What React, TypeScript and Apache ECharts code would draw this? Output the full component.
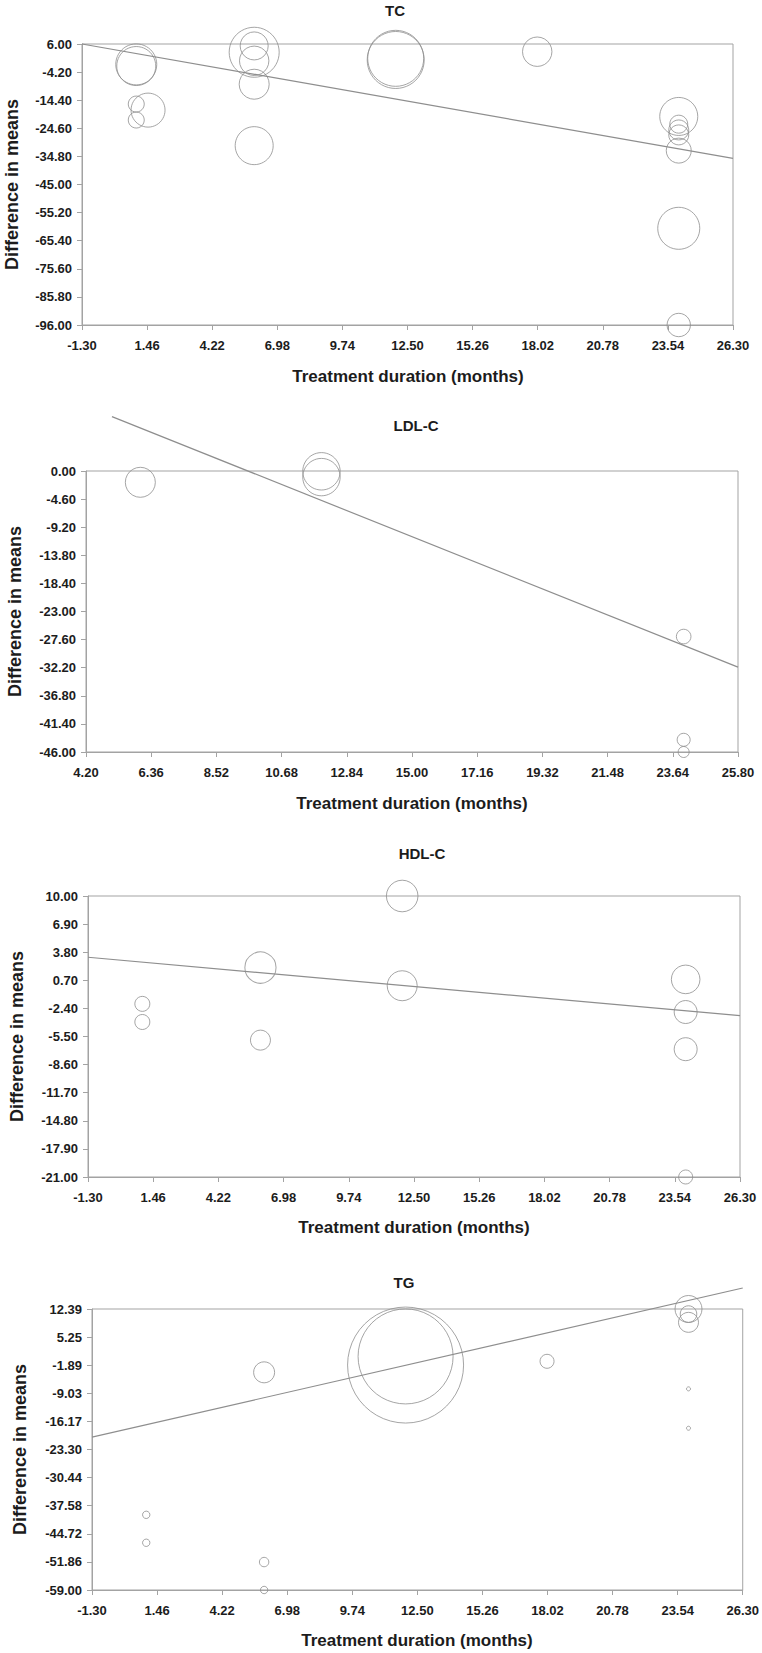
import React, { useEffect, useRef } from "react";
import * as echarts from "echarts";

// ---- tick labels ----
const xTicksFull = [-1.3, 1.46, 4.22, 6.98, 9.74, 12.5, 15.26, 18.02, 20.78, 23.54, 26.3];
const xTicksLDL = [4.2, 6.36, 8.52, 10.68, 12.84, 15.0, 17.16, 19.32, 21.48, 23.64, 25.8];
const yTicksTC = [6, -4.2, -14.4, -24.6, -34.8, -45, -55.2, -65.4, -75.6, -85.8, -96];
const yTicksLDL = [0, -4.6, -9.2, -13.8, -18.4, -23, -27.6, -32.2, -36.8, -41.4, -46];
const yTicksHDL = [10, 6.9, 3.8, 0.7, -2.4, -5.5, -8.6, -11.7, -14.8, -17.9, -21];
const yTicksTG = [12.39, 5.25, -1.89, -9.03, -16.17, -23.3, -30.44, -37.58, -44.72, -51.86, -59];

// ---- studies: [treatment duration (months), difference in means, bubble radius] ----
const tcStudies = [
  [1, -1.4, 20.5], [1, -2.0, 19.5], [1, -15.8, 8], [1, -21.6, 8], [1.5, -18, 17],
  [6, 3.0, 25], [6, 5.3, 14], [6, -0.1, 14.7], [6, -8.6, 15], [6, -30.9, 19],
  [12, 0.8, 28], [12, 0.2, 28.5],
  [18, 3.2, 14.7],
  [24, -20.3, 19], [24, -23.1, 9], [24, -25.2, 10], [24, -27, 10], [24, -32.7, 12.5], [24, -60.9, 21], [24, -96, 11.7],
];
const tcRegression = [[-1.3, 6], [26.3, -35.5]];

const ldlStudies = [
  [6, -1.85, 15], [12, -0.05, 18.7], [12, -1.0, 18.7],
  [24, -27.1, 7.3], [24, -44.0, 6.5], [24, -46.0, 5.5],
];
const ldlRegression = [[5.06, 8.9], [25.8, -32.1]];

const hdlStudies = [
  [1, -1.9, 7.5], [1, -3.9, 7.5],
  [6, 2.1, 15.6], [6, -5.9, 10],
  [12, 10, 15.8], [12, 0.1, 15],
  [24, 0.8, 14.3], [24, -2.8, 11.5], [24, -6.9, 11.5], [24, -21, 7],
];
const hdlRegression = [[-1.3, 3.24], [26.3, -3.2]];

const tgStudies = [
  [1, -39.9, 3.7], [1, -47.0, 3.7],
  [6, -3.7, 10.5], [6, -51.9, 4.7], [6, -59, 3.7],
  [12, -1.85, 58], [12, 0.34, 47.5],
  [18, -0.9, 7],
  [24, 12.39, 13.5], [24, 11.1, 8.3], [24, 9.0, 10], [24, -7.9, 2], [24, -17.9, 2],
];
const tgRegression = [[-1.3, -20.16], [26.3, 17.73]];

const FONT = "'Liberation Sans', Arial, Helvetica, sans-serif";
const TEXT = "#1c1c1c";
const AXIS = "#a3a3a3";
const MARK = "#8e8e8e";

const panels = [
  { title: "TC", titleX: 395, titleY: 10, grid: { left: 82, right: 29, top: 44, height: 281 }, xTicks: xTicksFull, yTicks: yTicksTC, studies: tcStudies, reg: tcRegression, xNameX: 408, xNameY: 376, yNameX: 12 },
  { title: "LDL-C", titleX: 416, titleY: 425, grid: { left: 86, right: 24, top: 471, height: 281 }, xTicks: xTicksLDL, yTicks: yTicksLDL, studies: ldlStudies, reg: ldlRegression, xNameX: 412, xNameY: 803, yNameX: 15 },
  { title: "HDL-C", titleX: 422, titleY: 853, grid: { left: 88, right: 22, top: 896, height: 281 }, xTicks: xTicksFull, yTicks: yTicksHDL, studies: hdlStudies, reg: hdlRegression, xNameX: 414, xNameY: 1227, yNameX: 17 },
  { title: "TG", titleX: 404, titleY: 1282, grid: { left: 92, right: 19, top: 1309, height: 281 }, xTicks: xTicksFull, yTicks: yTicksTG, studies: tgStudies, reg: tgRegression, xNameX: 417, xNameY: 1640, yNameX: 20 },
];

export default function App() {
  const ref = useRef<HTMLDivElement>(null);
  useEffect(() => {
    if (!ref.current) return;
    const chart = echarts.init(ref.current, undefined, { renderer: "svg" });
    const grids: any[] = [];
    const xAxes: any[] = [];
    const yAxes: any[] = [];
    const series: any[] = [];
    const graphics: any[] = [];
    panels.forEach((p, i) => {
      grids.push({ ...p.grid, show: true, borderColor: AXIS, borderWidth: 1, backgroundColor: "transparent" });
      const labelStyle = { fontFamily: FONT, fontWeight: "bold", fontSize: 13, color: TEXT };
      xAxes.push({
        type: "value", gridIndex: i, min: p.xTicks[0], max: p.xTicks[p.xTicks.length - 1],
        axisLine: { show: true, onZero: false, lineStyle: { color: AXIS, width: 1 } },
        axisTick: { show: true, length: 5, lineStyle: { color: AXIS }, customValues: p.xTicks },
        axisLabel: { ...labelStyle, margin: 14, customValues: p.xTicks, formatter: (v: number) => v.toFixed(2) },
        splitLine: { show: false },
      });
      yAxes.push({
        type: "value", gridIndex: i, min: p.yTicks[p.yTicks.length - 1], max: p.yTicks[0],
        axisLine: { show: true, onZero: false, lineStyle: { color: AXIS, width: 1 } },
        axisTick: { show: true, length: 5, lineStyle: { color: AXIS }, customValues: p.yTicks },
        axisLabel: { ...labelStyle, margin: 10, customValues: p.yTicks, formatter: (v: number) => v.toFixed(2) },
        splitLine: { show: false },
      });
      series.push({
        type: "line", xAxisIndex: i, yAxisIndex: i, data: p.reg, symbol: "none", clip: false, silent: true,
        lineStyle: { color: MARK, width: 1.2 },
      });
      series.push({
        type: "scatter", xAxisIndex: i, yAxisIndex: i, data: p.studies, clip: false, silent: true,
        symbol: "circle", symbolSize: (d: number[]) => d[2] * 2,
        itemStyle: { color: "rgba(0,0,0,0)", borderColor: MARK, borderWidth: 1 },
      });
      graphics.push({
        type: "text", x: p.titleX, y: p.titleY,
        style: { text: p.title, fontFamily: FONT, fontWeight: "bold", fontSize: 15, fill: TEXT, align: "center", verticalAlign: "middle" },
      });
      graphics.push({
        type: "text", x: p.xNameX, y: p.xNameY,
        style: { text: "Treatment duration (months)", fontFamily: FONT, fontWeight: "bold", fontSize: 17, fill: TEXT, align: "center", verticalAlign: "middle" },
      });
      graphics.push({
        type: "text", x: p.yNameX, y: p.grid.top + p.grid.height / 2, rotation: Math.PI / 2,
        style: { text: "Difference in means", fontFamily: FONT, fontWeight: "bold", fontSize: 18, fill: TEXT, align: "center", verticalAlign: "middle" },
      });
    });
    chart.setOption({
      animation: false,
      backgroundColor: "#ffffff",
      grid: grids,
      xAxis: xAxes,
      yAxis: yAxes,
      series,
      graphic: graphics,
    });
    return () => chart.dispose();
  }, []);
  return <div ref={ref} style={{ position: "absolute", left: 0, top: 0, width: 762, height: 1653 }} />;
}
